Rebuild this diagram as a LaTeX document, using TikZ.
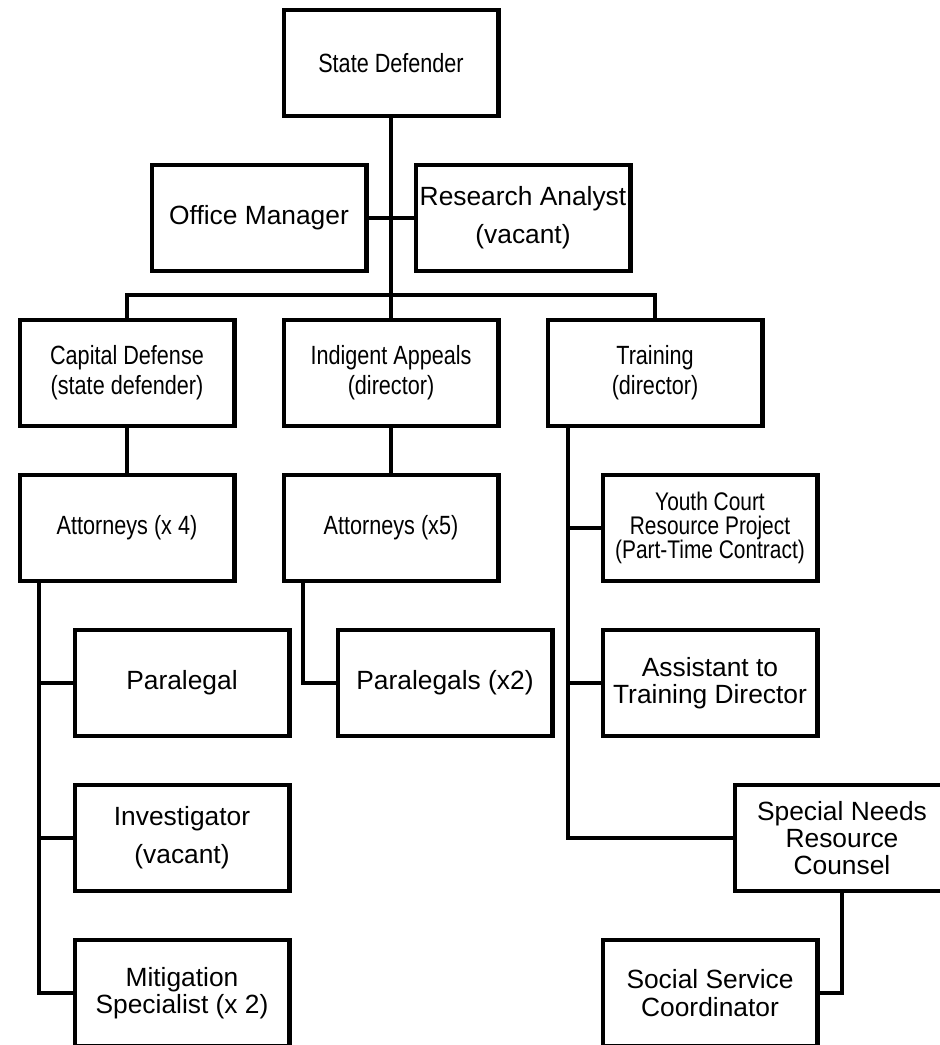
\documentclass[tikz,border=0pt]{standalone}
\usepackage{fontspec}
\setmainfont{Liberation Sans}
\newfontfamily\narrowfont[FakeStretch=0.82]{Liberation Sans}

\begin{document}
\def\boxlw{2.3pt}

\begin{tikzpicture}[x=0.02cm, y=-0.02cm, line join=miter,
line width=\boxlw,
post/.style={draw, line width=\boxlw, minimum width=4.3cm, minimum height=2.12cm,
  inner sep=1pt, align=center, font=\fontsize{15}{15.6}\selectfont},
narrowpost/.style={post, font=\narrowfont\fontsize{15}{17}\selectfont},
vacantpost/.style={post, font=\fontsize{15}{21.5}\selectfont},
%font = \small
]
\useasboundingbox (0,0) rectangle (940,1045);

\node[narrowpost](sd) at (391,63) {State Defender};
\node[post](om) at (259,218) {Office Manager};
\node[vacantpost](ra) at (523,218) {Research Analyst\\(vacant)};

\node[narrowpost](cd) at (127,373) {Capital Defense\\(state defender)};
\node[narrowpost](ia) at (391,373) {Indigent Appeals\\(director)};
\node[narrowpost](tr) at (655,373) {Training\\(director)};

\node[narrowpost](a4) at (127,528) {Attorneys (x 4)};
\node[narrowpost](a5) at (391,528) {Attorneys (x5)};
\node[narrowpost, font=\narrowfont\fontsize{14.5}{13.7}\selectfont](yc) at (710,528)
  {Youth Court\\Resource Project\\(Part-Time Contract)};

\node[post](pl) at (182,683) {Paralegal};
\node[post](p2) at (445,683) {Paralegals (x2)};
\node[post](ta) at (710,683) {Assistant to\\Training Director};

\node[vacantpost](inv) at (182,838) {Investigator\\(vacant)};
\node[post](sn) at (842,838) {Special Needs\\Resource\\Counsel};

\node[post](mit) at (182,993) {Mitigation\\Specialist (x 2)};
\node[post](ss) at (710,993) {Social Service\\Coordinator};

% spines
\coordinate (bar) at (391,295);
\coordinate (lsp) at (39,0);
\coordinate (msp) at (303,0);
\coordinate (rsp) at (568,0);

\draw (sd) -- (ia);
\draw (om) -- (ra);
\draw (cd) -- (cd |- bar) -- (tr |- bar) -- (tr);
\draw (cd) -- (a4);
\draw (ia) -- (a5);

\draw (a4.south -| lsp) |- (mit.west);
\draw (lsp |- pl) -- (pl.west);
\draw (lsp |- inv) -- (inv.west);

\draw (a5.south -| msp) |- (p2.west);

\draw (tr.south -| rsp) |- (sn.west);
\draw (rsp |- yc) -- (yc.west);
\draw (rsp |- ta) -- (ta.west);
\draw (sn.south) |- (ss.east);
\end{tikzpicture}
\end{document}
